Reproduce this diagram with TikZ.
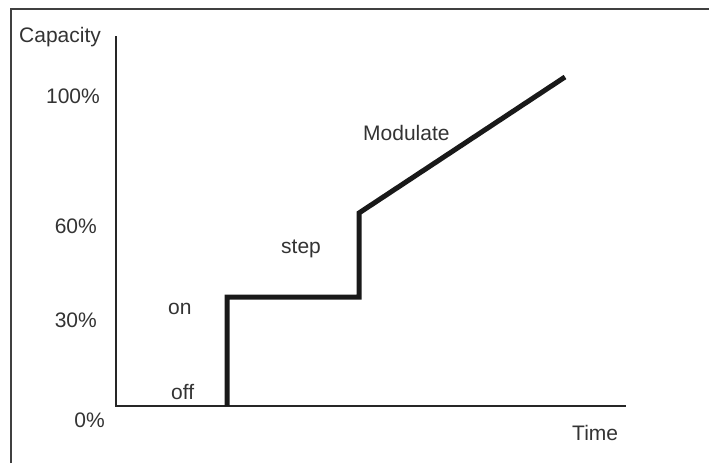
\documentclass[tikz,border=0pt]{standalone}
\usepackage{fontspec}
\setmainfont{Liberation Sans}
\begin{document}
\begin{tikzpicture}[x=1pt,y=-1pt,
  lbl/.style={text=black!80, font=\fontsize{21}{25}\selectfont, inner sep=0pt},
  axis/.style={line width=2pt, black!85},
  profile/.style={line width=5pt, black!90, line join=miter},
  frame/.style={line width=2pt, black!75}]
\useasboundingbox (0,0) rectangle (709,463);
% frame (top and left edges visible)
\draw[frame] (11,463) -- (11,9) -- (709,9);
% axes
\coordinate (ytop) at (116,36);
\coordinate (orig) at (116,406);
\coordinate (xend) at (626,406);
\draw[axis] (ytop) -- (orig) -- (xend);
% profile
\coordinate (p0) at (227,406);
\coordinate (p1) at (227,297);
\coordinate (p2) at (359,297);
\coordinate (p3) at (359,213);
\coordinate (p4) at (565,77);
\draw[profile] (p0) -- (p1) -- (p2) -- (p3) -- (p4);
% labels
\node[lbl, anchor=base west] (cap) at (19,42) {Capacity};
\node[lbl, anchor=base east] (l100) at (100,103) {100\%};
\node[lbl, anchor=base east] (l60) at (97,233) {60\%};
\node[lbl, anchor=base east] (l30) at (97,327) {30\%};
\node[lbl, anchor=base east] (l0) at (105,427) {0\%};
\node[lbl, anchor=base west] (on) at (168,314) {on};
\node[lbl, anchor=base west] (off) at (171,399) {off};
\node[lbl, anchor=base west] (step) at (281,253) {step};
\node[lbl, anchor=base west] (mod) at (363,140) {Modulate};
\node[lbl, anchor=base west] (time) at (572,440) {Time};
\end{tikzpicture}
\end{document}
